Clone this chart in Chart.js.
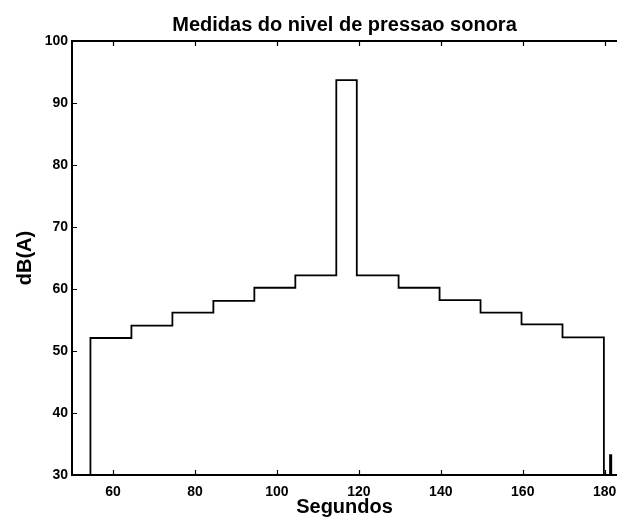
<!DOCTYPE html>
<html>
<head>
<meta charset="utf-8">
<script src="https://cdn.jsdelivr.net/npm/chart.js@4/dist/chart.umd.min.js"></script>
<style>
  html, body { margin: 0; padding: 0; background: #fff; overflow: hidden; }
</style>
</head>
<body>
<canvas id="soundCanvas" width="617" height="526"></canvas>
<script>
// tempos (s) onde o nivel muda, e o nivel a partir desse instante
var tempos = [50, 54.5, 64.5, 74.5, 84.5, 94.5, 104.5, 114.5, 119.5, 129.7, 139.7, 149.7, 159.7, 169.7, 179.8, 181.3, 181.6, 183];
var niveis = [30, 52.1, 54.1, 56.2, 58.1, 60.2, 62.2, 93.7, 62.2, 60.2, 58.2, 56.2, 54.3, 52.2, 30, 33.2, 30, 30];

var xTicks = [60, 80, 100, 120, 140, 160, 180];
var yTicks = [30, 40, 50, 60, 70, 80, 90, 100];

var xMin = 50, xMax = 183;
var yMin = 30, yMax = 100;

var fontFamily = "'Liberation Sans', Arial, Helvetica, sans-serif";

function buildPoints() {
	var pts = [];
	for (var i = 0; i < tempos.length; i++) {
		pts.push({ x: tempos[i], y: niveis[i] });
	}
	return pts;
}

// moldura estilo matlab: eixos grossos e marcas para dentro
var framePlugin = {
	id: 'frame',
	afterDatasetsDraw: function(chart) {
		var ctx = chart.ctx;
		var area = chart.chartArea;
		var xs = chart.scales.x, ys = chart.scales.y;
		ctx.save();
		ctx.strokeStyle = '#000';
		ctx.lineWidth = 2;
		ctx.beginPath();
		ctx.moveTo(area.right, area.top);
		ctx.lineTo(area.left, area.top);
		ctx.lineTo(area.left, area.bottom);
		ctx.lineTo(area.right, area.bottom);
		ctx.stroke();

		ctx.lineWidth = 1.2;
		ctx.beginPath();
		xTicks.forEach(function(v) {
			var px = Math.round(xs.getPixelForValue(v)) + 0.5;
			ctx.moveTo(px, area.bottom);
			ctx.lineTo(px, area.bottom - 5);
			ctx.moveTo(px, area.top);
			ctx.lineTo(px, area.top + 5);
		});
		yTicks.forEach(function(v) {
			var py = Math.round(ys.getPixelForValue(v)) + 0.5;
			ctx.moveTo(area.left, py);
			ctx.lineTo(area.left + 5, py);
		});
		ctx.stroke();
		ctx.restore();
	}
};

var ctx = document.getElementById('soundCanvas').getContext('2d');
var chart = new Chart(ctx, {
	type: 'line',
	data: {
		datasets: [{
			data: buildPoints(),
			borderColor: '#000',
			borderWidth: 1.8,
			pointRadius: 0,
			fill: false,
			stepped: 'before',
			tension: 0
		}]
	},
	options: {
		responsive: false,
		animation: false,
		devicePixelRatio: 1,
		layout: { padding: 0 },
		plugins: {
			legend: { display: false },
			tooltip: { enabled: false },
			title: {
				display: true,
				fullSize: false,
				text: 'Medidas do nivel de pressao sonora',
				color: '#000',
				font: { family: fontFamily, size: 20, weight: 'bold' },
				padding: { top: 13, bottom: 4 }
			}
		},
		scales: {
			x: {
				type: 'linear',
				min: xMin,
				max: xMax,
				grid: { display: false, drawTicks: false },
				border: { display: false },
				afterBuildTicks: function(scale) {
					scale.ticks = xTicks.map(function(v) { return { value: v }; });
				},
				afterFit: function(scale) {
					scale.height = 51;
					scale.paddingLeft = 0;
					scale.paddingRight = 0;
				},
				ticks: {
					color: '#000',
					padding: 9,
					maxRotation: 0,
					font: { family: fontFamily, size: 14, weight: 'bold' }
				},
				title: {
					display: true,
					text: 'Segundos',
					color: '#000',
					font: { family: fontFamily, size: 20, weight: 'bold' },
					padding: { top: 0, bottom: 7 }
				}
			},
			y: {
				type: 'linear',
				min: yMin,
				max: yMax,
				grid: { display: false, drawTicks: false },
				border: { display: false },
				afterBuildTicks: function(scale) {
					scale.ticks = yTicks.map(function(v) { return { value: v }; });
				},
				afterFit: function(scale) {
					scale.width = 72;
					scale.paddingTop = 0;
					scale.paddingBottom = 0;
				},
				ticks: {
					color: '#000',
					padding: 4,
					font: { family: fontFamily, size: 14, weight: 'bold' }
				},
				title: {
					display: true,
					text: 'dB(A)',
					color: '#000',
					font: { family: fontFamily, size: 20, weight: 'bold' },
					padding: { top: 13, bottom: 0 }
				}
			}
		}
	},
	plugins: [framePlugin]
});
</script>
</body>
</html>
